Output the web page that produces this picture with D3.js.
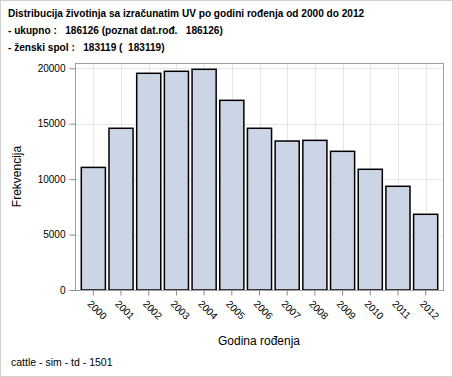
<!DOCTYPE html>
<html>
<head>
<meta charset="utf-8">
<script src="https://cdn.jsdelivr.net/npm/d3@7"></script>
<style>
  body { margin: 0; background: #fff; }
  text { font-family: Arial, "Liberation Sans", sans-serif; }
</style>
</head>
<body>
<svg id="canvas" width="453" height="377"></svg>
<script>
// chart data
const years = ['2000', '2001', '2002', '2003', '2004', '2005', '2006', '2007', '2008', '2009', '2010', '2011', '2012']
const counts = [11060, 14590, 19550, 19730, 19910, 17110, 14590, 13440, 13500, 12510, 10890, 9355, 6830]
const yTicks = [0, 5000, 10000, 15000, 20000]
const titleLines = [
    'Distribucija životinja sa izračunatim UV po godini rođenja od 2000 do 2012',
    '- ukupno :   186126 (poznat dat.rođ.   186126)',
    '- ženski spol :   183119 (  183119)'
]

let canvas = d3.select('#canvas')

// plot frame
let frameLeft = 75, frameRight = 443, frameTop = 63, frameBottom = 290

let xScale = d3.scaleBand()
    .domain(years)
    .range([79.5, 439.5])
    .paddingInner(0.13)
    .paddingOuter(0.065)

let yScale = d3.scaleLinear()
    .domain([0, 20000])
    .range([frameBottom, 68.3])

// outer border
canvas.append('rect')
    .attr('x', 0.5).attr('y', 0.5)
    .attr('width', 452).attr('height', 376)
    .attr('fill', 'none')
    .attr('stroke', '#cfcfcf')

// gridlines
canvas.append('g')
    .selectAll('line')
    .data(yTicks)
    .enter()
    .append('line')
    .attr('x1', frameLeft).attr('x2', frameRight)
    .attr('y1', (d) => Math.round(yScale(d)) + 0.5)
    .attr('y2', (d) => Math.round(yScale(d)) + 0.5)
    .attr('stroke', '#e6e6e6')

canvas.append('g')
    .selectAll('line')
    .data(years)
    .enter()
    .append('line')
    .attr('x1', (d) => Math.round(xScale(d) + xScale.bandwidth() / 2) + 0.5)
    .attr('x2', (d) => Math.round(xScale(d) + xScale.bandwidth() / 2) + 0.5)
    .attr('y1', frameTop).attr('y2', frameBottom)
    .attr('stroke', '#e6e6e6')

// bars
canvas.append('g')
    .selectAll('rect')
    .data(counts)
    .enter()
    .append('rect')
    .attr('x', (d, i) => xScale(years[i]))
    .attr('y', (d) => yScale(d))
    .attr('width', xScale.bandwidth())
    .attr('height', (d) => frameBottom - yScale(d))
    .attr('fill', '#cbd5e5')
    .attr('stroke', '#000')
    .attr('stroke-width', 1.5)

// frame
canvas.append('rect')
    .attr('x', frameLeft + 0.5).attr('y', frameTop + 0.5)
    .attr('width', frameRight - frameLeft).attr('height', frameBottom - frameTop)
    .attr('fill', 'none')
    .attr('stroke', '#a0a0a0')

// y axis
let yAxis = d3.axisLeft(yScale)
    .tickValues(yTicks)
    .tickSize(6)
    .tickPadding(4)
    .tickFormat(d3.format('d'))

let yG = canvas.append('g')
    .attr('transform', 'translate(' + (frameLeft + 0.5) + ',0)')
    .call(yAxis)
yG.select('.domain').remove()
yG.selectAll('line').attr('stroke', '#8a8a8a')
yG.selectAll('text').attr('font-size', 10).attr('fill', '#000')

// x axis
let xAxis = d3.axisBottom(xScale).tickSize(5).tickSizeOuter(0)
let xG = canvas.append('g')
    .attr('transform', 'translate(0,' + (frameBottom + 0.5) + ')')
    .call(xAxis)
xG.select('.domain').remove()
xG.selectAll('line').attr('stroke', '#8a8a8a')
xG.selectAll('text')
    .attr('font-size', 10)
    .attr('fill', '#000')
    .attr('text-anchor', 'start')
    .attr('y', 0)
    .attr('dy', 0)
    .attr('transform', 'translate(-6.5,14) rotate(45)')

// axis labels
canvas.append('text')
    .attr('x', 259).attr('y', 345)
    .attr('text-anchor', 'middle')
    .attr('font-size', 12)
    .text('Godina rođenja')

canvas.append('text')
    .attr('transform', 'translate(21,' + ((frameTop + frameBottom) / 2) + ') rotate(-90)')
    .attr('text-anchor', 'middle')
    .attr('font-size', 12)
    .text('Frekvencija')

// title
canvas.append('g')
    .selectAll('text')
    .data(titleLines)
    .enter()
    .append('text')
    .attr('x', 8)
    .attr('y', (d, i) => 17 + i * 17)
    .attr('font-size', 10.1)
    .attr('font-weight', 'bold')
    .attr('xml:space', 'preserve')
    .style('white-space', 'pre')
    .text((d) => d)

// footnote
canvas.append('text')
    .attr('x', 11).attr('y', 366)
    .attr('font-size', 10.5)
    .text('cattle - sim - td - 1501')
</script>
</body>
</html>
